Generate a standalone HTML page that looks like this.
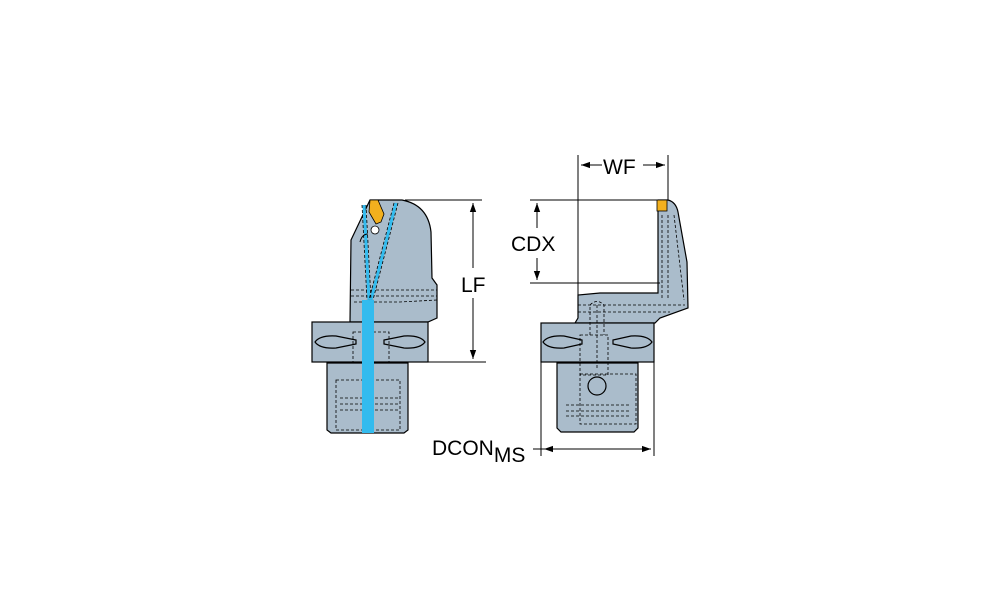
<!DOCTYPE html>
<html><head><style>
html,body{margin:0;padding:0;background:#fff;}
svg{display:block;}
text{font-family:"Liberation Sans",Arial,sans-serif;fill:#000;}
</style></head><body>
<svg width="1000" height="611" viewBox="0 0 1000 611" xmlns="http://www.w3.org/2000/svg">
<defs>
<marker id="a" viewBox="0 0 10 10" refX="10" refY="5" markerWidth="9" markerHeight="9" orient="auto-start-reverse" markerUnits="userSpaceOnUse"><path d="M0,1.5 L10,5 L0,8.5 z" fill="#000"/></marker>
</defs>
<g stroke="#000" stroke-width="1.2" fill="#aabccb">
<!-- LEFT VIEW -->
<path d="M370,200 L402,200 Q428,205 431,232 L432,278 L437,285 L437,318 L428,322 L350,322 L351,240 Z"/>
<rect x="312" y="322" width="116" height="40"/>
<path d="M327,363 L408,363 L408,430 L404,433 L331,433 L327,430 Z"/>
<path d="M315,342 Q320,335 336,336 L356,340 L356,344 L336,348 Q320,349 315,342 Z"/>
<path d="M425,342 Q420,335 404,336 L384,340 L384,344 L404,348 Q420,349 425,342 Z"/>
</g>
<g stroke="#000" stroke-width="0.8" fill="none" stroke-dasharray="3,2">
<line x1="351" y1="290" x2="437" y2="290"/><line x1="351" y1="296" x2="437" y2="296"/>
<path d="M354,302 L400,302 L437,300"/>
<rect x="353" y="332" width="36" height="30"/>
<line x1="340" y1="398" x2="400" y2="398"/><line x1="340" y1="404" x2="400" y2="404"/>
<line x1="340" y1="410" x2="400" y2="410"/>
<rect x="336" y="380" width="64" height="50"/>
</g>
<rect x="362" y="300" width="12" height="133" fill="#33bbee"/>
<g stroke="#33bbee" stroke-width="3" fill="none">
<line x1="364" y1="205" x2="369" y2="300"/><line x1="396" y1="203" x2="371" y2="300"/>
</g>
<g stroke="#000" stroke-width="0.8" fill="none" stroke-dasharray="3,2">
<line x1="362" y1="205" x2="367" y2="300"/><line x1="366" y1="205" x2="371" y2="300"/>
<line x1="394" y1="203" x2="369" y2="300"/><line x1="398" y1="203" x2="373" y2="300"/>
</g>
<path d="M370,200 L378,200 L384,214 L381,222 L376,224 L369,212 Z" fill="#f2b01e" stroke="#000" stroke-width="0.8"/>
<circle cx="375" cy="230" r="4" fill="#fff" stroke="#000" stroke-width="0.8"/>
<path d="M360,242 Q362,234 368,234" stroke="#000" fill="none" stroke-width="1"/>
<!-- RIGHT VIEW -->
<g stroke="#000" stroke-width="1.2" fill="#aabccb">
<path d="M658,200 L668,200 Q676,202 678,212 L687,262 L688,308 L660,318 L655,323 L575,323 L578,318 L578,295 L600,293 L658,293 Z"/>
<rect x="541" y="323" width="113" height="39"/>
<path d="M557,363 L638,363 L638,428 L634,432 L561,432 L557,428 Z"/>
<path d="M543,342 Q548,335 564,336 L582,340 L582,344 L564,348 Q548,349 543,342 Z"/>
<path d="M652,342 Q647,335 631,336 L613,340 L613,344 L631,348 Q647,349 652,342 Z"/>
<circle cx="597" cy="386" r="9" fill="none"/>
</g>
<g stroke="#000" stroke-width="0.8" fill="none" stroke-dasharray="3,2">
<rect x="580" y="374" width="56" height="50"/>
<line x1="566" y1="405" x2="630" y2="405"/><line x1="566" y1="411" x2="630" y2="411"/><line x1="566" y1="416" x2="630" y2="416"/>
<rect x="580" y="335" width="28" height="40"/>
<path d="M590,335 L590,305 Q597,298 604,305 L604,335"/>
<line x1="597" y1="305" x2="597" y2="370"/>
<line x1="578" y1="305" x2="685" y2="305"/><line x1="578" y1="312" x2="670" y2="312"/>
<line x1="662" y1="215" x2="662" y2="300"/><line x1="668" y1="215" x2="668" y2="300"/>
<line x1="674" y1="215" x2="684" y2="300"/>
</g>
<rect x="657" y="200" width="10" height="11" fill="#f2b01e" stroke="#000" stroke-width="0.8"/>
<!-- dimensions -->
<g stroke="#000" stroke-width="1" fill="none">
<line x1="405" y1="200" x2="482" y2="200"/><line x1="428" y1="362" x2="486" y2="362"/>
<line x1="473" y1="203" x2="473" y2="268" marker-start="url(#a)"/>
<line x1="473" y1="298" x2="473" y2="359" marker-end="url(#a)"/>
<line x1="578" y1="155" x2="578" y2="295"/><line x1="668" y1="155" x2="668" y2="200"/>
<line x1="581" y1="165" x2="602" y2="165" marker-start="url(#a)"/>
<line x1="643" y1="165" x2="665" y2="165" marker-end="url(#a)"/>
<line x1="530" y1="200" x2="657" y2="200"/><line x1="530" y1="283" x2="660" y2="283"/>
<line x1="537" y1="203" x2="537" y2="228" marker-start="url(#a)"/>
<line x1="537" y1="258" x2="537" y2="280" marker-end="url(#a)"/>
<line x1="541" y1="362" x2="541" y2="456"/><line x1="654" y1="362" x2="654" y2="456"/>
<line x1="533" y1="449" x2="544" y2="449"/>
<line x1="544" y1="449" x2="651" y2="449" marker-start="url(#a)" marker-end="url(#a)"/>
</g>
<text x="461" y="292" font-size="21">LF</text>
<text x="603" y="174" font-size="21">WF</text>
<text x="511" y="251" font-size="21">CDX</text>
<text x="432" y="455" font-size="21">DCON<tspan font-size="21" dy="7">MS</tspan></text>
</svg>
</body></html>
